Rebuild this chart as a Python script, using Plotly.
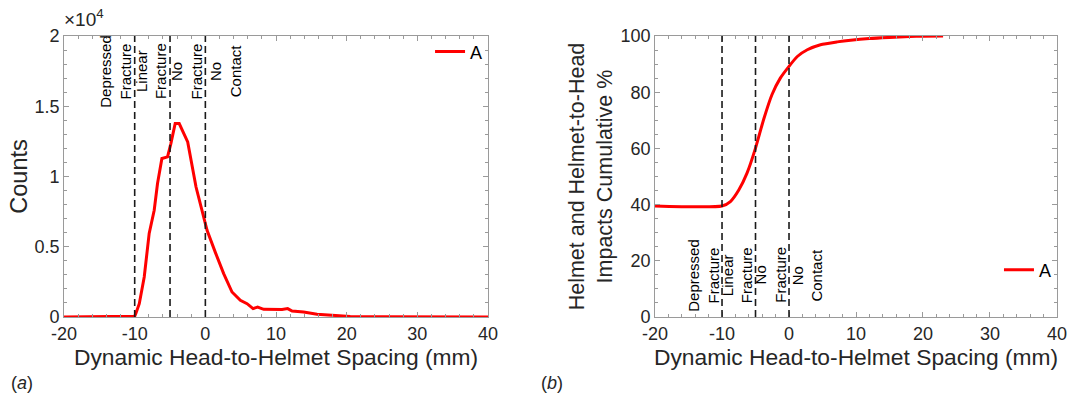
import plotly.graph_objects as go

# ---------------- data ----------------
# (a) histogram counts vs dynamic head-to-helmet spacing
spacing_a = [-20, -10.2, -10, -9.8, -9.35, -8.65, -7.95, -7.24, -6.77, -6.15, -5.35,
             -4.88, -4.27, -3.7, -2.5, -1.32, 0, 0.24, 1.41, 2.59, 3.77, 4.95, 5.9,
             6.75, 7.4, 8.25, 10.85, 11.65, 12.27, 13.9, 15.8, 18.2, 20.5, 25, 30, 40]
counts = [0, 0, 50, 300, 950, 2850, 5950, 7600, 9500, 11280, 11400,
          12340, 13770, 13770, 12460, 9250, 6650, 6170, 4600, 3090, 1780, 1190, 950,
          600, 710, 550, 540, 600, 430, 360, 190, 120, 40, 10, 0, 0]

# (b) cumulative percentage
spacing_b = [-20, -10, -8.75, -7.5, -6.27, -5, -3.8, -2.55, -1.3, 0, 1.24, 2.73,
             4.7, 7.2, 9.2, 12, 15, 18, 20, 23]
cumulative = [39.5, 39.5, 41.1, 45.2, 51.2, 60.1, 70.2, 79.1, 85.0, 89.2, 92.7, 95.1,
              96.9, 97.9, 98.5, 99.1, 99.5, 99.8, 99.95, 100]

thresholds = [-10, -5, 0]
region_labels = ["Depressed<br>Fracture", "Linear<br>Fracture", "No<br>Fracture", "No<br>Contact"]
region_label_x = [-12.7, -7.7, -2.7, 2.8]
label_y_a = 1.75   # in units of 10^4
label_y_b = 15

x_ticks = [-20, -10, 0, 10, 20, 30, 40]
x_ticktext = ["-20", "-10", "0", "10", "20", "30", "40"]
ya_ticks = [0, 0.5, 1, 1.5, 2]
ya_ticktext = ["0", "0.5", "1", "1.5", "2"]
yb_ticks = [0, 20, 40, 60, 80, 100]

FONT = "Liberation Sans, Arial, sans-serif"
TXT = "#262626"
AX = "#9a9a9a"

fig = go.Figure()
fig.add_trace(go.Scatter(x=spacing_a, y=[c / 1e4 for c in counts], mode="lines",
                         line=dict(color="#ff0000", width=3), name="A", showlegend=True,
                         xaxis="x", yaxis="y", legend="legend"))
fig.add_trace(go.Scatter(x=spacing_b, y=cumulative, mode="lines",
                         line=dict(color="#ff0000", width=3, shape="spline", smoothing=0.6),
                         name="A", showlegend=True, xaxis="x2", yaxis="y2", legend="legend2"))

for t in thresholds:
    for xr, yr in (("x", "y domain"), ("x2", "y2 domain")):
        fig.add_shape(type="line", xref=xr, yref=yr, x0=t, x1=t, y0=0, y1=1,
                      line=dict(color="#1a1a1a", width=1.6, dash="7px,4px"), layer="above")

for lab, lx in zip(region_labels, region_label_x):
    fig.add_annotation(x=lx, y=label_y_a, xref="x", yref="y", text=lab, textangle=-90,
                       showarrow=False, font=dict(family=FONT, size=15, color="#000"),
                       align="center")
    fig.add_annotation(x=lx, y=label_y_b, xref="x2", yref="y2", text=lab, textangle=-90,
                       showarrow=False, font=dict(family=FONT, size=15, color="#000"),
                       align="center")

axis_common = dict(showgrid=False, zeroline=False, showline=True, linecolor=AX, linewidth=1,
                   mirror="ticks", ticks="inside", ticklen=5, tickcolor=AX, automargin=False,
                   tickfont=dict(family=FONT, size=18, color=TXT))

xa = dict(axis_common, range=[-20, 40], tickvals=x_ticks, ticktext=x_ticktext,
          minor=dict(dtick=2, ticks="inside", ticklen=3, tickcolor=AX),
          title=dict(text="Dynamic Head-to-Helmet Spacing (mm)",
                     font=dict(family=FONT, size=22.8, color=TXT), standoff=0))

fig.update_layout(
    template="none", showlegend=True,
    width=1067, height=399, margin=dict(l=0, r=0, t=0, b=0),
    paper_bgcolor="white", plot_bgcolor="white",
    font=dict(family=FONT, color=TXT),
    xaxis=dict(xa, domain=[0.060, 0.4574], anchor="y"),
    yaxis=dict(axis_common, domain=[0.2055, 0.9098], anchor="x", range=[0, 2],
               tickvals=ya_ticks, ticktext=ya_ticktext,
               minor=dict(dtick=0.1, ticks="inside", ticklen=3, tickcolor=AX),
               title=dict(text="Counts", font=dict(family=FONT, size=23.5, color=TXT), standoff=0)),
    xaxis2=dict(xa, domain=[0.6139, 0.9906], anchor="y2"),
    yaxis2=dict(axis_common, domain=[0.2055, 0.9098], anchor="x2", range=[0, 100],
                tickvals=yb_ticks,
                minor=dict(dtick=5, ticks="inside", ticklen=3, tickcolor=AX),
                title=dict(text="Helmet and Helmet-to-Head<br>Impacts Cumulative %",
                           font=dict(family=FONT, size=21.5, color=TXT), standoff=1)),
    legend=dict(x=0.4574, y=0.87, xanchor="right", yanchor="middle", visible=True,
                bgcolor="rgba(0,0,0,0)", font=dict(family=FONT, size=18, color="#000"),
                itemwidth=30),
    legend2=dict(x=0.9906, y=0.323, xanchor="right", yanchor="middle", visible=True,
                 bgcolor="rgba(0,0,0,0)", font=dict(family=FONT, size=18, color="#000"),
                 itemwidth=30),
    annotations=list(fig.layout.annotations) + [
        dict(text="×10<sup>4</sup>", x=0.058, y=0.92, xref="paper", yref="paper",
             xanchor="left", yanchor="bottom", showarrow=False,
             font=dict(family=FONT, size=19, color=TXT)),
        dict(text="(<i>a</i>)", x=0.008, y=0.04, xref="paper", yref="paper",
             xanchor="left", yanchor="middle", showarrow=False,
             font=dict(family=FONT, size=18, color=TXT)),
        dict(text="(<i>b</i>)", x=0.505, y=0.04, xref="paper", yref="paper",
             xanchor="left", yanchor="middle", showarrow=False,
             font=dict(family=FONT, size=18, color=TXT)),
    ],
)

fig.write_html("out.html")
